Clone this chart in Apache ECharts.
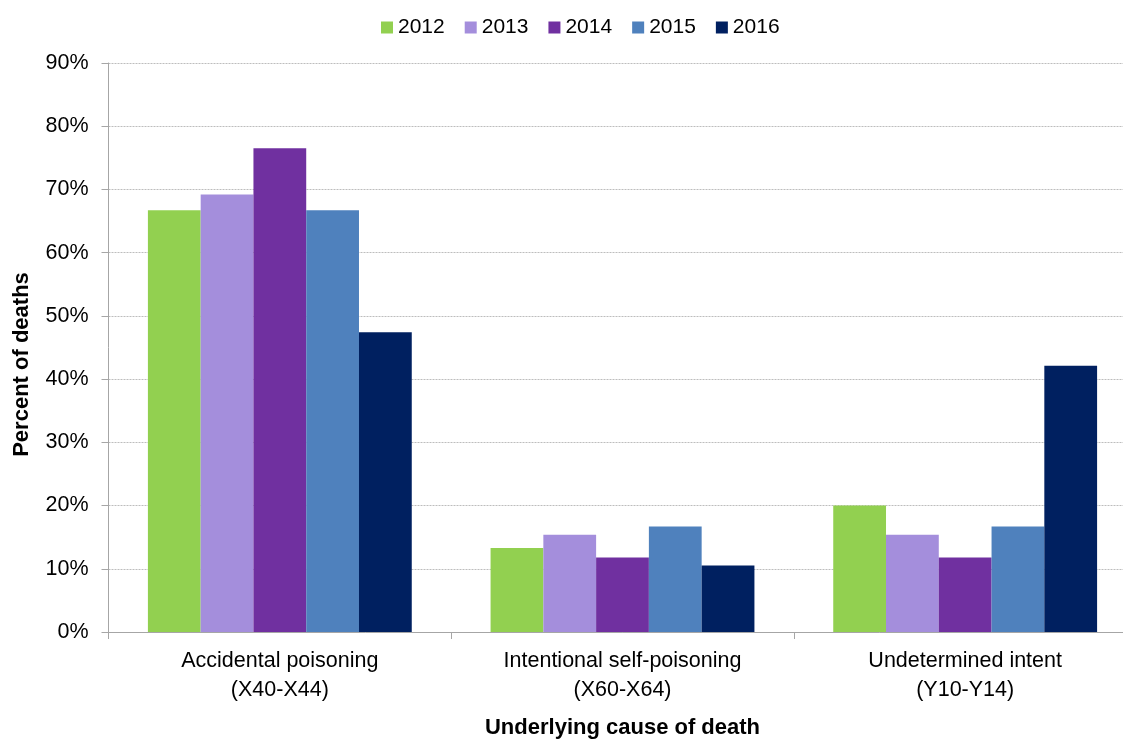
<!DOCTYPE html>
<html>
<head>
<meta charset="utf-8">
<script src="https://cdn.jsdelivr.net/npm/echarts@6/dist/echarts.min.js"></script>
<style>
html,body{margin:0;padding:0;background:#fff;overflow:hidden;}
#chart{width:1137px;height:744px;}
</style>
</head>
<body>
<div id="chart"></div>
<script>
const categories = ['Accidental poisoning\n(X40-X44)', 'Intentional self-poisoning\n(X60-X64)', 'Undetermined intent\n(Y10-Y14)'];
const years = ['2012', '2013', '2014', '2015', '2016'];
const v2012 = [66.7, 13.3, 20.0];
const v2013 = [69.2, 15.4, 15.4];
const v2014 = [76.5, 11.8, 11.8];
const v2015 = [66.7, 16.7, 16.7];
const v2016 = [47.4, 10.5, 42.1];
const yTicks = [0, 10, 20, 30, 40, 50, 60, 70, 80, 90];
const colors = ['#92D050', '#A48EDC', '#7030A0', '#4F81BD', '#002060'];
const allValues = [v2012, v2013, v2014, v2015, v2016];

const FONT = 'Liberation Sans, Arial, sans-serif';
const chart = echarts.init(document.getElementById('chart'), null, {renderer: 'canvas', width: 1137, height: 744});
chart.setOption({
  animation: false,
  backgroundColor: '#ffffff',
  textStyle: {fontFamily: FONT},
  legend: {
    top: 12,
    left: 376,
    itemWidth: 12,
    itemHeight: 12,
    itemGap: 20,
    icon: 'rect',
    textStyle: {fontSize: 21, color: '#000', fontFamily: FONT},
    data: years
  },
  grid: {left: 108.5, width: 1028, top: 63, height: 576, containLabel: false},
  xAxis: {
    type: 'category',
    data: categories,
    axisLine: {lineStyle: {color: '#a6a6a6', width: 1}},
    axisTick: {show: true, length: 7, lineStyle: {color: '#a6a6a6'}},
    axisLabel: {fontSize: 21.5, color: '#000', fontFamily: FONT, lineHeight: 29, margin: 15},
    name: 'Underlying cause of death',
    nameLocation: 'middle',
    nameGap: 85,
    nameTextStyle: {fontSize: 22, fontWeight: 'bold', color: '#000', fontFamily: FONT}
  },
  yAxis: {
    type: 'value',
    min: yTicks[0],
    max: yTicks[yTicks.length - 1],
    interval: 10,
    axisLine: {show: true, lineStyle: {color: '#a6a6a6', width: 1}},
    axisTick: {show: true, length: 7, lineStyle: {color: '#a6a6a6'}},
    axisLabel: {fontSize: 21.5, color: '#000', fontFamily: FONT, margin: 20, formatter: '{value}%'},
    splitLine: {show: true, lineStyle: {color: '#bdbdbd', type: [2, 1], width: 1}},
    name: 'Percent of deaths',
    nameLocation: 'middle',
    nameGap: 76,
    nameRotate: 90,
    nameTextStyle: {fontSize: 22, fontWeight: 'bold', color: '#000', fontFamily: FONT, padding: [0, 34, 0, 0]}
  },
  series: years.map((y, i) => ({
    name: y,
    type: 'bar',
    data: allValues[i],
    barGap: '0%',
    barCategoryGap: '23%',
    itemStyle: {color: colors[i]}
  }))
});
</script>
</body>
</html>
